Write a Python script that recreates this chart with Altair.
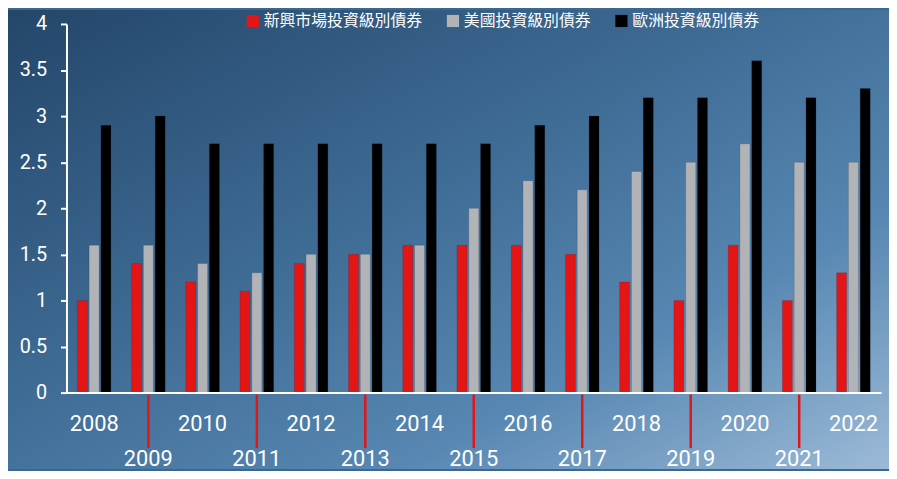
import altair as alt
import pandas as pd

years = [str(y) for y in range(2008, 2023)]
series = ["新興市場投資級別債券", "美國投資級別債券", "歐洲投資級別債券"]
em = [1.0, 1.4, 1.2, 1.1, 1.4, 1.5, 1.6, 1.6, 1.6, 1.5, 1.2, 1.0, 1.6, 1.0, 1.3]
us = [1.6, 1.6, 1.4, 1.3, 1.5, 1.5, 1.6, 2.0, 2.3, 2.2, 2.4, 2.5, 2.7, 2.5, 2.5]
eu = [2.9, 3.0, 2.7, 2.7, 2.7, 2.7, 2.7, 2.7, 2.9, 3.0, 3.2, 3.2, 3.6, 3.2, 3.3]
colors = ["#e31515", "#b2b3b7", "#000000"]
y_ticks = [0, 0.5, 1, 1.5, 2, 2.5, 3, 3.5, 4]

rows = []
for i, yr in enumerate(years):
    for s, vals in zip(series, [em, us, eu]):
        rows.append({"year": yr, "series": s, "value": vals[i]})
df = pd.DataFrame(rows)

W, H = 822, 372
PL, PT, PR, PB = 59, 14, 8, 77

xscale = alt.Scale(domain=years, paddingInner=0.38, paddingOuter=0.2)

bg = alt.Chart(pd.DataFrame({"a": [0]})).mark_rect(
    color=alt.LinearGradient(
        gradient="linear",
        stops=[
            alt.GradientStop(color="#24466a", offset=0),
            alt.GradientStop(color="#3e6b94", offset=0.42),
            alt.GradientStop(color="#5787b2", offset=0.72),
            alt.GradientStop(color="#9cbad7", offset=1),
        ],
        x1=0, y1=0, x2=1, y2=1,
    )
).encode(
    x=alt.value(-PL), x2=alt.value(W + PR),
    y=alt.value(-PT), y2=alt.value(H + PB),
)

bars = alt.Chart(df).mark_bar(stroke="#1e3550", strokeWidth=0.4, strokeOpacity=0.5).encode(
    x=alt.X("year:N", scale=xscale, title=None,
            axis=alt.Axis(
                labelAngle=0, ticks=False, domainColor="white", domainWidth=2,
                labelColor="white", labelFont="Roboto", labelFontSize=22,
                labelPadding={"condition": {"test": "toNumber(datum.value) % 2 == 1", "value": 57}, "value": 21},
                zindex=1,
            )),
    xOffset=alt.XOffset("series:N", sort=series,
                        scale=alt.Scale(paddingInner=0.15, paddingOuter=0)),
    y=alt.Y("value:Q", title=None,
            scale=alt.Scale(domain=[0, 4], nice=False),
            axis=alt.Axis(values=y_ticks, grid=False, domainColor="white", domainWidth=2,
                          tickColor="white", tickWidth=2, tickSize=6,
                          labelColor="white", labelFont="Roboto", labelFontSize=20,
                          labelPadding=14, format="~g", zindex=1)),
    color=alt.Color("series:N", sort=series,
                    scale=alt.Scale(domain=series, range=colors),
                    legend=alt.Legend(
                        orient="none", direction="horizontal", title=None,
                        legendX=247 - 8 - PL, legendY=-PT + 3,
                        symbolType="square", symbolSize=150, symbolStrokeWidth=0,
                        labelColor="white", labelFont="Noto Sans CJK TC", labelFontSize=16,
                        labelOffset=3, columnPadding=22, labelLimit=400,
                    )),
)

odd_df = pd.DataFrame({"year": [y for y in years if int(y) % 2 == 1]})
ticks = alt.Chart(odd_df).mark_rule(color="#e31515", strokeWidth=2.5).encode(
    x=alt.X("year:N", scale=xscale),
    y=alt.value(H + 2), y2=alt.value(H + 56),
)

chart = alt.layer(bg, bars, ticks).properties(
    width=W, height=H,
    padding={"left": PL, "top": PT, "right": PR, "bottom": PB},
    autosize=alt.AutoSizeParams(type="none"),
    background="#3c6890",
).configure_view(stroke=None)

chart.save("out.html", embed_options={"renderer": "svg", "actions": False})
